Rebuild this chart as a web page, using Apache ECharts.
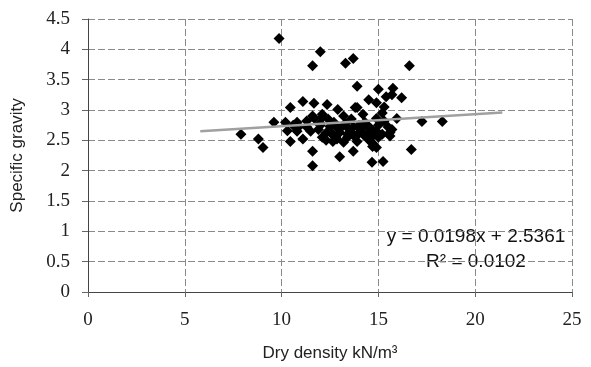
<!DOCTYPE html>
<html>
<head>
<meta charset="utf-8">
<script src="https://cdn.jsdelivr.net/npm/echarts@6/dist/echarts.min.js"></script>
<style>html,body{margin:0;padding:0;background:#fff}#c{width:591px;height:367px}</style>
</head>
<body>
<div id="c"></div>
<script>
// Dry density (kN/m3) values
const dryDensity = [9.87,12.0,11.6,13.3,13.7,16.6,13.9,14.5,15.0,15.75,15.4,16.2,12.9,13.8,15.2,15.95,17.25,18.3,15.7,15.6,16.7,13.0,14.67,15.24,13.7,14.7,10.45,11.1,11.67,12.35,9.6,7.9,8.8,9.04,10.45,11.1,11.6,11.6,10.2,10.8,11.3,11.7,12.1,10.3,10.8,11.5,11.6,12.1,13.2,14.2,14.9,13.0,12.86,13.2,14.46,14.9,15.6,12.5,13.5,14.0,14.7,12.0,12.3,12.7,13.3,13.6,14.0,14.3,14.6,15.0,15.3,15.5,12.1,12.6,13.8,14.2,15.2,11.9,12.9,14.9,13.4,12.4,10.9,15.7,14.9,15.3,
  12.5,12.8,13.1,13.4,13.6,13.9,14.1,14.4,14.7,15.0,12.3,13.7,14.4,11.3,10.6,12.0,12.65,14.6,13.9];
// Specific gravity values
const specificGravity = [4.18,3.96,3.73,3.77,3.85,3.73,3.39,3.17,3.34,3.36,3.22,3.2,3.01,3.04,2.95,2.86,2.81,2.81,2.68,2.57,2.35,2.23,2.14,2.15,2.32,2.4,3.04,3.14,3.11,3.09,2.8,2.6,2.52,2.38,2.48,2.52,2.32,2.08,2.8,2.8,2.82,2.86,2.88,2.66,2.65,2.65,2.9,2.93,2.9,2.93,2.86,2.63,2.52,2.47,2.52,2.38,2.63,2.73,2.68,2.63,2.57,2.75,2.62,2.8,2.78,2.85,2.75,2.8,2.7,2.75,2.82,2.72,2.55,2.6,2.55,2.6,2.6,2.68,2.7,2.65,2.6,2.85,2.73,3.25,3.12,3.05,
  2.65,2.55,2.72,2.55,2.62,2.48,2.68,2.6,2.45,2.55,2.5,2.72,2.75,2.72,2.75,2.78,2.48,2.48,3.04];
// Trendline end points
const trendX = [5.8, 21.4];
const trendY = [2.65, 2.96];
const xTicks = [0,5,10,15,20,25];
const yTicks = [0,0.5,1,1.5,2,2.5,3,3.5,4,4.5];
const equationText = 'y = 0.0198x + 2.5361';
const r2Text = 'R\u00b2 = 0.0102';

const pts = dryDensity.map((x,i)=>[x, specificGravity[i]]);
const trend = trendX.map((x,i)=>[x, trendY[i]]);

const chart = echarts.init(document.getElementById('c'));
const gridLine = {show:true, lineStyle:{color:'#8a8a8a', width:1, type:[7,3]}};
chart.setOption({
  animation:false,
  grid:{left:88, right:19, top:19, bottom:74},
  xAxis:{
    type:'value', min:0, max:25, interval:5,
    name:'Dry density kN/m\u00b3', nameLocation:'middle', nameGap:53,
    nameTextStyle:{fontFamily:'Liberation Sans', fontSize:17, color:'#222'},
    axisLine:{show:true, onZero:false, lineStyle:{color:'#444', width:1}},
    axisTick:{show:true, length:5, lineStyle:{color:'#666'}},
    axisLabel:{fontFamily:'Liberation Serif', fontSize:19, color:'#222', margin:19,
      formatter:v=>xTicks.includes(v)?String(v):''},
    splitLine:gridLine
  },
  yAxis:{
    type:'value', min:0, max:4.5, interval:0.5,
    name:'Specific gravity', nameLocation:'middle', nameGap:62,
    nameTextStyle:{fontFamily:'Liberation Sans', fontSize:17, color:'#222'},
    axisLine:{show:true, lineStyle:{color:'#444', width:1}},
    axisTick:{show:true, length:6, lineStyle:{color:'#666'}},
    axisLabel:{fontFamily:'Liberation Serif', fontSize:19, color:'#222', margin:18,
      formatter:v=>{const t=yTicks.find(a=>Math.abs(a-v)<1e-9);return t===undefined?'':String(t);}},
    splitLine:gridLine
  },
  series:[
    {type:'scatter', data:pts, symbol:'diamond', symbolSize:11,
      itemStyle:{color:'#000', opacity:1}, z:2},
    {type:'line', data:trend, symbol:'none', z:3,
      lineStyle:{color:'#a0a0a0', width:2.5}}
  ],
  graphic:[
    {type:'text', x:476, y:237, style:{text:equationText, font:'19px "Liberation Sans"', fill:'#111', textAlign:'center', textVerticalAlign:'middle'}},
    {type:'text', x:476, y:262, style:{text:r2Text, font:'19px "Liberation Sans"', fill:'#111', textAlign:'center', textVerticalAlign:'middle'}}
  ]
});
</script>
</body>
</html>
